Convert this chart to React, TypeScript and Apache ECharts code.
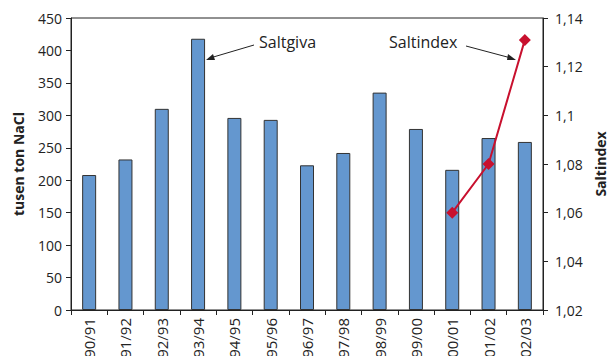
import React, { useEffect, useRef } from "react";
import * as echarts from "echarts";

const categories = ["90/91","91/92","92/93","93/94","94/95","95/96","96/97","97/98","98/99","99/00","00/01","01/02","02/03"];
const saltgiva = [208, 232, 310, 418, 296, 293, 223, 242, 335, 279, 216, 265, 259];
const saltindex = [null, null, null, null, null, null, null, null, null, null, 1.06, 1.08, 1.131];

const FONT = "'Open Sans', 'Noto Sans', sans-serif";

export default function App() {
  const ref = useRef<HTMLDivElement>(null);
  useEffect(() => {
    const chart = echarts.init(ref.current!, null, { renderer: "svg" });
    const fmt = (v: number) => String(+v.toFixed(2)).replace(".", ",");
    chart.setOption({
      animation: false,
      textStyle: { fontFamily: FONT },
      grid: { left: 71, right: 68, top: 18, bottom: 46, outerBoundsMode: "none", containLabel: false, show: true, borderColor: "#222", borderWidth: 1 },
      xAxis: {
        type: "category",
        data: categories,
        axisLine: { lineStyle: { color: "#222" } },
        axisTick: { show: true, length: 5, lineStyle: { color: "#222" } },
        axisLabel: { rotate: 90, fontSize: 15, color: "#222", fontFamily: FONT, margin: 8 },
      },
      yAxis: [
        {
          type: "value", min: 0, max: 450, interval: 50,
          name: "tusen ton NaCl", nameLocation: "middle", nameGap: 46, nameRotate: 90,
          nameTextStyle: { fontWeight: "bold", fontSize: 14, color: "#222", fontFamily: FONT },
          axisLine: { show: true, lineStyle: { color: "#222" } },
          axisTick: { show: true, length: 5, lineStyle: { color: "#222" } },
          axisLabel: { fontSize: 14, color: "#222", fontFamily: FONT, margin: 9 },
          splitLine: { show: false },
        },
        {
          type: "value", min: 1.02, max: 1.14, interval: 0.02, position: "right",
          name: "Saltindex", nameLocation: "middle", nameGap: 49, nameRotate: 90,
          nameTextStyle: { fontWeight: "bold", fontSize: 14, color: "#222", fontFamily: FONT },
          axisLine: { show: true, lineStyle: { color: "#222" } },
          axisTick: { show: true, length: 5, lineStyle: { color: "#222" } },
          axisLabel: { fontSize: 14, color: "#222", fontFamily: FONT, formatter: fmt, margin: 12 },
          splitLine: { show: false },
        },
      ],
      series: [
        {
          name: "Saltgiva", type: "bar", data: saltgiva, barWidth: 14,
          itemStyle: { color: "#6497CF", borderColor: "#333", borderWidth: 1 },
        },
        {
          name: "Saltindex", type: "line", yAxisIndex: 1, data: saltindex,
          symbol: "diamond", symbolSize: 12,
          lineStyle: { color: "#C8102E", width: 2 },
          itemStyle: { color: "#C8102E" },
        },
      ],
      graphic: [
        { type: "text", left: 259, top: 34, style: { text: "Saltgiva", fontSize: 16, fill: "#222", fontFamily: FONT } },
        { type: "line", shape: { x1: 254, y1: 45, x2: 210, y2: 58 }, style: { stroke: "#222", lineWidth: 1 } },
        { type: "polygon", shape: { points: [[206, 60], [213, 54], [215, 60]] }, style: { fill: "#222" } },
        { type: "text", left: 389, top: 34, style: { text: "Saltindex", fontSize: 16, fill: "#222", fontFamily: FONT } },
        { type: "line", shape: { x1: 466, y1: 46, x2: 511, y2: 58 }, style: { stroke: "#222", lineWidth: 1 } },
        { type: "polygon", shape: { points: [[516, 60], [508, 54], [507, 60]] }, style: { fill: "#222" } },
      ],
    });
    return () => chart.dispose();
  }, []);
  return <div ref={ref} style={{ width: 611, height: 356, position: "absolute", left: 0, top: 0 }} />;
}
